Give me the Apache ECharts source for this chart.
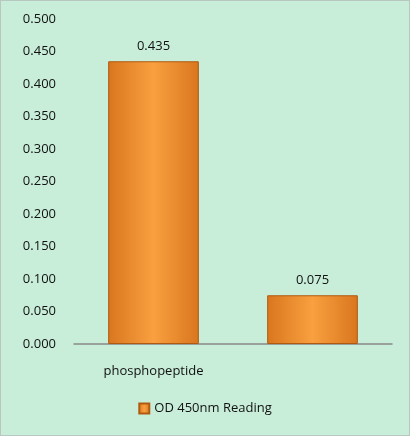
<!DOCTYPE html>
<html lang="en">
<head>
    <meta charset="UTF-8">
    <title>OD 450nm Reading</title>
    <script src="https://cdn.jsdelivr.net/npm/echarts@6/dist/echarts.min.js"></script>
    <style>body{margin:0;background:#fff}</style>
</head>
<body>
    <div id="main" style="width:408px;height:434px;border:1px solid #b8c8c0;background:#c8eed9"></div>
<script>
    var categories = ['phosphopeptide', 'non-phosphopeptide'];
    var readings = [0.435, 0.075];
    var seriesName = 'OD 450nm Reading';

    var chart = echarts.init(document.getElementById('main'));
    var barColor = new echarts.graphic.LinearGradient(0, 0, 1, 0, [
        {offset: 0, color: '#d9761e'},
        {offset: 0.5, color: '#f9a040'},
        {offset: 1, color: '#d9761e'}
    ]);
    var option = {
        textStyle: {fontFamily: 'Open Sans', color: '#111'},
        grid: {left: 73, right: 17, top: 18, bottom: 91},
        legend: {
            bottom: 15,
            icon: 'rect',
            itemWidth: 10, itemHeight: 10, itemGap: 4,
            textStyle: {fontSize: 13, color: '#111'},
            data: [seriesName]
        },
        xAxis: {
            type: 'category',
            data: categories,
            axisLine: {lineStyle: {color: '#888', width: 1.5}},
            axisTick: {show: false},
            axisLabel: {fontSize: 13, color: '#111', margin: 21}
        },
        yAxis: {
            type: 'value',
            min: 0, max: 0.5, interval: 0.05,
            splitLine: {show: false},
            axisLine: {show: false},
            axisLabel: {fontSize: 13, color: '#111', margin: 18,
                formatter: function (v) { return v.toFixed(3); }}
        },
        series: [{
            name: seriesName,
            type: 'bar',
            data: readings,
            barWidth: '57%',
            itemStyle: {color: barColor, borderColor: '#b05a10', borderWidth: 1},
            label: {show: true, position: 'top', fontSize: 13, color: '#111', distance: 8,
                formatter: function (p) { return p.value.toFixed(3); }}
        }]
    };
    chart.setOption(option);
</script>
</body>
</html>
